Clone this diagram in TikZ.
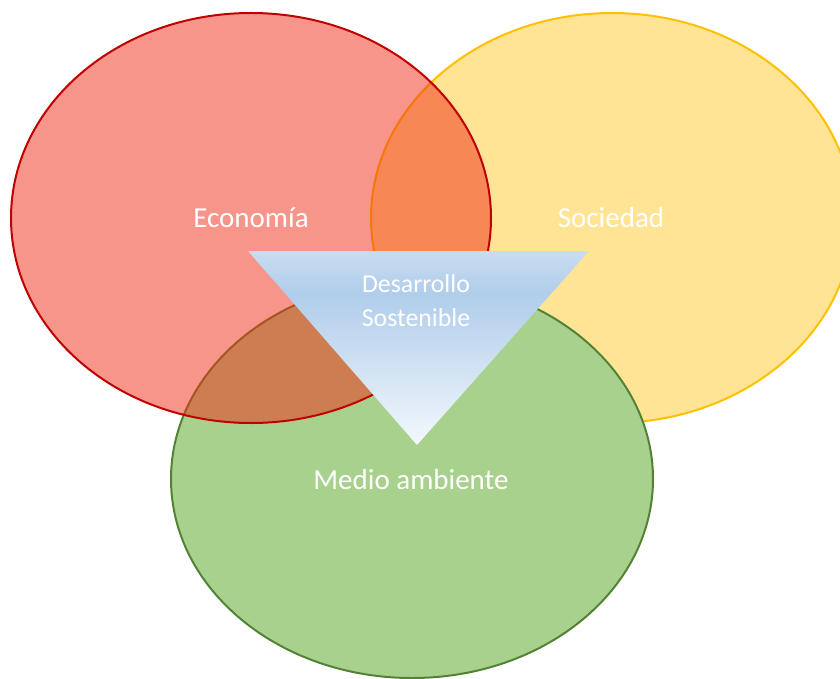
\documentclass[tikz,border=0pt]{standalone}
\usepackage{fontspec}
\setmainfont{Carlito}
\usetikzlibrary{shapes.geometric}
\definecolor{ecofill}{RGB}{241,43,21}
\definecolor{ecoline}{RGB}{192,0,0}
\definecolor{socfill}{RGB}{255,228,150}
\definecolor{socline}{RGB}{255,192,0}
\definecolor{medfill}{RGB}{169,209,142}
\definecolor{medline}{RGB}{84,130,53}
\definecolor{tritop}{RGB}{201,221,241}
\definecolor{trimid}{RGB}{176,205,234}
\definecolor{tribot}{RGB}{243,248,253}
\pgfdeclareverticalshading{trishade}{100bp}{color(0bp)=(tribot); color(25bp)=(tribot); color(64bp)=(trimid); color(75bp)=(tritop); color(100bp)=(tritop)}
\begin{document}
\begin{tikzpicture}[x=1pt,y=-1pt,
  circ/.style={ellipse, draw, line width=2pt, inner sep=0pt, minimum width=480pt, minimum height=410pt},
  lbl/.style={anchor=base, text=white, inner sep=0pt, font=\fontsize{29}{34}\selectfont},
  dlbl/.style={anchor=base, text=white, inner sep=0pt, font=\fontsize{25.8}{30}\selectfont}]
\useasboundingbox (0,0) rectangle (840,679);
\clip (0,0) rectangle (840,679);
\node[circ, fill=socfill, draw=socline, minimum width=482pt] (soc) at (612,218) {};
\node[circ, fill=medfill, draw=medline, minimum width=482pt, minimum height=398pt] (med) at (412,479) {};
\node[circ, fill=ecofill, fill opacity=0.5, draw=ecoline, draw opacity=1] (eco) at (251,218) {};
\coordinate (tl) at (248,251);
\coordinate (tr) at (589,251);
\coordinate (tb) at (417,445);
\shade[shading=trishade] (tl) -- (tr) -- (tb) -- cycle;
\node[lbl] (ecot) at (251,227.5) {Economía};
\node[lbl] (soct) at (611,227.5) {Sociedad};
\node[lbl] (medt) at (411,489) {Medio ambiente};
\node[dlbl] (dest) at (416,292) {Desarrollo};
\node[dlbl] (sost) at (416,326.5) {Sostenible};
\end{tikzpicture}
\end{document}
